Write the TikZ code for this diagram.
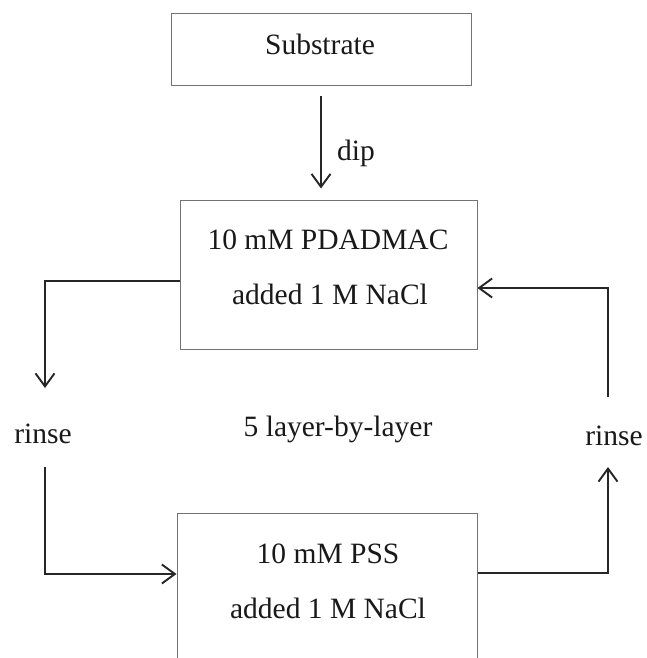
\documentclass[tikz,border=0pt]{standalone}
\usepackage{fontspec}
\setmainfont{Liberation Serif}
\usetikzlibrary{arrows.meta}
\begin{document}
\begin{tikzpicture}[x=1pt,y=-1pt,
  box/.style={draw=black!55,line width=1pt,rectangle,inner sep=0pt},
  txt/.style={inner sep=0pt,anchor=base,text=black!90,font=\fontsize{29.5}{35}\selectfont},
  arr/.style={draw=black!85,line width=1.9pt,-{Straight Barb[length=13pt,width=19pt]}},
  con/.style={draw=black!85,line width=1.9pt}]
\clip (0,0) rectangle (647,658);
\fill[white] (0,0) rectangle (647,658);
% boxes
\node[box,minimum width=300pt,minimum height=72pt] (sub) at (321,50) {};
\node[box,minimum width=297pt,minimum height=149pt] (pda) at (328.5,274.5) {};
\node[box,minimum width=300pt,minimum height=187pt] (pss) at (327,606.5) {};
% texts
\node[txt] (tsub) at (320,55) {Substrate};
\node[txt] (tpda1) at (328,249) {10 mM PDADMAC};
\node[txt] (tpda2) at (330,304) {added 1 M NaCl};
\node[txt] (tpss1) at (328,563) {10 mM PSS};
\node[txt] (tpss2) at (328,618) {added 1 M NaCl};
\node[txt,anchor=base west] (dip) at (337,160) {dip};
\node[txt] (lbl) at (338,436) {5 layer-by-layer};
\node[txt] (rl) at (43,443) {rinse};
\node[txt] (rr) at (614,445) {rinse};
% coordinates
\coordinate (lA) at (45,281);
\coordinate (lB) at (45,388);
\coordinate (lC) at (45,467);
\coordinate (lD) at (45,574);
\coordinate (rA) at (608,573);
\coordinate (rB) at (608,467);
\coordinate (rC) at (608,397);
\coordinate (rD) at (608,288);
% connectors
\draw[arr,shorten <=10pt,shorten >=11pt] (sub.south) -- (sub.south |- pda.north);
\draw[arr] (pda.west |- lA) -- (lA) -- (lB);
\draw[arr] (lC) -- (lD) -- (pss.west |- lD);
\draw[arr] (pss.east |- rA) -- (rA) -- (rB);
\draw[arr] (rC) -- (rD) -- (pda.east |- rD);
\end{tikzpicture}
\end{document}
